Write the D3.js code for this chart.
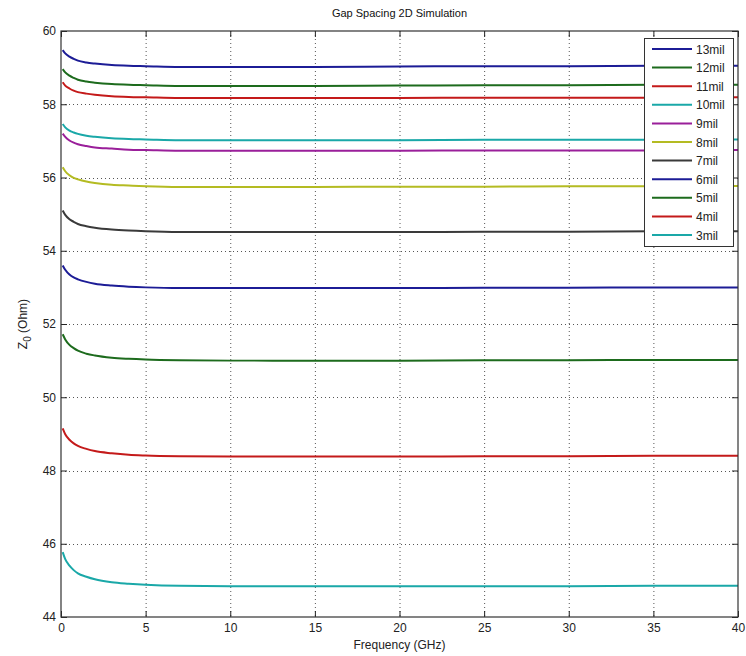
<!DOCTYPE html>
<html><head><meta charset="utf-8">
<script src="https://cdn.jsdelivr.net/npm/d3@7"></script>
<style>body{margin:0;background:#fff}svg{display:block}text{font-family:"Liberation Sans",Arial,sans-serif}</style>
</head><body><svg id="c" width="746" height="656"></svg>
<script>
const freqs = [0.1,0.25,0.5,0.75,1,1.5,2,3,4,5,7,10,15,20,25,30,35,40];
const labels = ["13mil","12mil","11mil","10mil","9mil","8mil","7mil","6mil","5mil","4mil","3mil"];
const colors = ["#1c1c96","#1d6b1d","#c41a1a","#1aa8a8","#9a1f9a","#b4bb22","#3a3a3a","#1c1c96","#1d6b1d","#c41a1a","#1aa8a8"];
const s13 = [59.48,59.39,59.30,59.24,59.19,59.14,59.11,59.07,59.05,59.04,59.02,59.02,59.02,59.03,59.04,59.04,59.05,59.05];
const s12 = [58.96,58.87,58.78,58.72,58.67,58.62,58.59,58.55,58.53,58.52,58.50,58.50,58.50,58.51,58.52,58.52,58.53,58.53];
const s11 = [58.60,58.51,58.43,58.37,58.33,58.29,58.26,58.22,58.20,58.19,58.17,58.17,58.17,58.17,58.18,58.18,58.18,58.19];
const s10 = [57.46,57.37,57.28,57.23,57.19,57.14,57.11,57.07,57.05,57.04,57.02,57.02,57.02,57.02,57.03,57.03,57.03,57.04];
const s9  = [57.20,57.11,57.01,56.95,56.91,56.86,56.82,56.79,56.76,56.75,56.73,56.73,56.73,56.73,56.74,56.74,56.74,56.75];
const s8  = [56.28,56.17,56.06,55.99,55.95,55.89,55.85,55.80,55.78,55.76,55.74,55.74,55.74,55.75,55.75,55.76,55.76,55.77];
const s7  = [55.10,54.98,54.86,54.79,54.73,54.67,54.63,54.58,54.55,54.53,54.51,54.51,54.51,54.51,54.52,54.52,54.53,54.53];
const s6  = [53.60,53.48,53.35,53.27,53.22,53.15,53.10,53.05,53.02,53.00,52.98,52.98,52.98,52.98,52.99,52.99,53.00,53.00];
const s5  = [51.72,51.58,51.43,51.34,51.27,51.19,51.14,51.08,51.05,51.03,51.01,51.00,51.00,51.00,51.01,51.01,51.02,51.02];
const s4  = [49.15,48.99,48.84,48.74,48.67,48.59,48.53,48.47,48.43,48.41,48.39,48.38,48.38,48.38,48.39,48.39,48.40,48.40];
const s3  = [45.77,45.58,45.40,45.28,45.19,45.10,45.03,44.95,44.91,44.88,44.85,44.84,44.84,44.84,44.84,44.84,44.85,44.85];
const series = [s13,s12,s11,s10,s9,s8,s7,s6,s5,s4,s3];
const xTicks = [0,5,10,15,20,25,30,35,40];
const yTicks = [44,46,48,50,52,54,56,58,60];
const title = "Gap Spacing 2D Simulation";
const xLabel = "Frequency (GHz)";

const svg = d3.select("#c");
const L=61, R=738, T=31, B=617;
const x = d3.scaleLinear().domain([0,40]).range([L,R]);
const y = d3.scaleLinear().domain([44,60]).range([B,T]);

// grid
const g = svg.append("g");
g.selectAll(".gx").data(xTicks.slice(1,-1)).join("line")
  .attr("x1",d=>x(d)+0.5).attr("x2",d=>x(d)+0.5).attr("y1",T).attr("y2",B)
  .attr("stroke","#555").attr("stroke-width",1).attr("stroke-dasharray","1,3");
g.selectAll(".gy").data(yTicks.slice(1,-1)).join("line")
  .attr("y1",d=>Math.round(y(d))+0.5).attr("y2",d=>Math.round(y(d))+0.5).attr("x1",L).attr("x2",R)
  .attr("stroke","#555").attr("stroke-width",1).attr("stroke-dasharray","1,3");

// lines
const line = d3.line().x((d,i)=>x(freqs[i])).y(d=>y(d)).curve(d3.curveMonotoneX);
series.forEach((s,i)=>{
  svg.append("path").datum(s).attr("d",line).attr("fill","none")
    .attr("stroke",colors[i]).attr("stroke-width",2);
});

// axes
const ax = svg.append("g").attr("transform",`translate(0,${B})`)
  .call(d3.axisBottom(x).tickValues(xTicks).tickSize(-6).tickPadding(6));
const ay = svg.append("g").attr("transform",`translate(${L},0)`)
  .call(d3.axisLeft(y).tickValues(yTicks).tickSize(-6).tickPadding(5));
const axT = svg.append("g").attr("transform",`translate(0,${T})`)
  .call(d3.axisTop(x).tickValues(xTicks).tickSize(-6).tickFormat(""));
const ayR = svg.append("g").attr("transform",`translate(${R},0)`)
  .call(d3.axisRight(y).tickValues(yTicks).tickSize(-6).tickFormat(""));
[ax,ay,axT,ayR].forEach(a=>{
  a.select(".domain").remove();
  a.selectAll("line").attr("stroke","#222");
  a.selectAll("text").attr("fill","#222").style("font-size","12px");
});
svg.append("rect").attr("x",L).attr("y",T).attr("width",R-L).attr("height",B-T)
  .attr("fill","none").attr("stroke","#333").attr("stroke-width",1.2);

// title and labels
svg.append("text").attr("x",(L+R)/2).attr("y",17).attr("text-anchor","middle")
  .style("font-size","11px").attr("fill","#111").text(title);
svg.append("text").attr("x",(L+R)/2).attr("y",649).attr("text-anchor","middle")
  .style("font-size","12px").attr("fill","#222").text(xLabel);
const yl = svg.append("text").attr("transform",`translate(27,${(T+B)/2}) rotate(-90)`)
  .attr("text-anchor","middle").style("font-size","12px").attr("fill","#222");
yl.append("tspan").text("Z");
yl.append("tspan").attr("dy",4).style("font-size","10px").text("0");
yl.append("tspan").attr("dy",-4).text(" (Ohm)");

// legend
const lg = svg.append("g");
lg.append("rect").attr("x",644.5).attr("y",38.5).attr("width",89).attr("height",208)
  .attr("fill","#fff").attr("stroke","#333").attr("stroke-width",1);
labels.forEach((lab,i)=>{
  const yy = 49 + i*18.6;
  lg.append("line").attr("x1",652).attr("x2",692).attr("y1",yy).attr("y2",yy)
    .attr("stroke",colors[i]).attr("stroke-width",2);
  lg.append("text").attr("x",696).attr("y",yy+4.5).style("font-size","12px").attr("fill","#222").text(lab);
});
</script></body></html>
